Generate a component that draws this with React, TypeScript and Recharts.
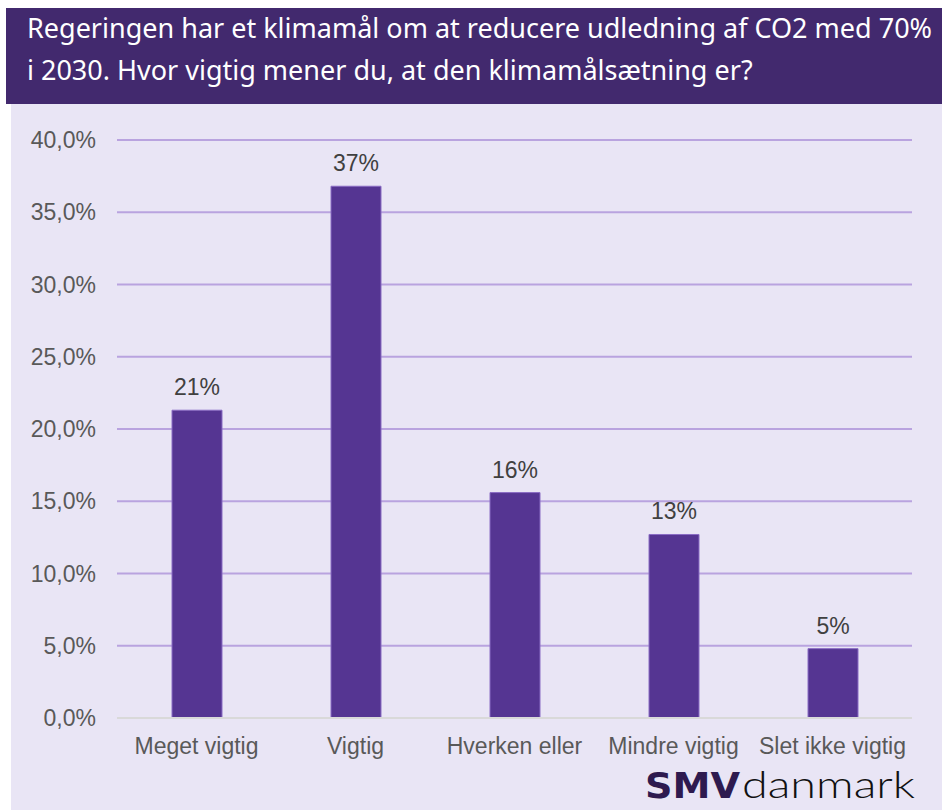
import { BarChart, Bar, XAxis, YAxis, CartesianGrid, LabelList } from 'recharts';

const categories = ['Meget vigtig', 'Vigtig', 'Hverken eller', 'Mindre vigtig', 'Slet ikke vigtig'];
const shares = [21.3, 36.8, 15.6, 12.7, 4.8];
const shareLabels = ['21%', '37%', '16%', '13%', '5%'];
const yTicks = [0, 5, 10, 15, 20, 25, 30, 35, 40];

const titleLines = [
  'Regeringen har et klimamål om at reducere udledning af CO2 med 70%',
  'i 2030. Hvor vigtig mener du, at den klimamålsætning er?',
];

const data = categories.map((name, i) => ({ name, value: shares[i], label: shareLabels[i] }));

export default function App() {
  return (
    <div style={{ position: 'absolute', left: 0, top: 0, width: 942, height: 810, background: '#fff', overflow: 'hidden' }}>
      <div style={{ position: 'absolute', left: 6, top: 8, width: 936, height: 96, background: '#42296E' }} />
      <div style={{ position: 'absolute', left: 11, top: 104, width: 931, height: 706, background: '#E9E5F5' }} />
      <div style={{ position: 'absolute', left: 27, top: 7, width: 910, color: '#fff', fontSize: 27, lineHeight: '42px',
        fontFamily: "'Noto Sans', sans-serif", whiteSpace: 'nowrap' }}>
        <div>{titleLines[0]}</div>
        <div>{titleLines[1]}</div>
      </div>
      <div style={{ position: 'absolute', left: 0, top: 0 }}>
        <BarChart width={942} height={810} data={data} margin={{ top: 140, right: 30, bottom: 0, left: 0 }}>
          <CartesianGrid vertical={false} stroke="#B9A3DF" strokeWidth={2} />
          <XAxis dataKey="name" height={92} tickSize={0} tickMargin={20} axisLine={{ stroke: '#D9D9D9', strokeWidth: 2 }}
            tickLine={false} interval={0} tick={{ fill: '#595959', fontSize: 23, fontFamily: 'Arial, Liberation Sans, sans-serif' }} />
          <YAxis width={117} domain={[0, 40]} ticks={yTicks} tickSize={0} tickMargin={21} axisLine={false} tickLine={false}
            tickFormatter={(v: number) => `${v.toFixed(1).replace('.', ',')}%`}
            tick={{ fill: '#595959', fontSize: 23, fontFamily: 'Arial, Liberation Sans, sans-serif' }} />
          <Bar dataKey="value" fill="#553592" stroke="#8A6CC4" strokeWidth={1} barSize={50} isAnimationActive={false}>
            <LabelList dataKey="label" position="top" offset={15} fill="#404040" fontSize={23}
              fontFamily="Arial, Liberation Sans, sans-serif" />
          </Bar>
        </BarChart>
      </div>
      <svg width={942} height={810} style={{ position: 'absolute', left: 0, top: 0, pointerEvents: 'none' }}>
        <text x={645} y={798} fill="#2E1A4F" fontSize={35} fontWeight={900} fontFamily="'DejaVu Sans', sans-serif"
          textLength={95} lengthAdjust="spacingAndGlyphs">SMV</text>
        <text x={742} y={798} fill="#111" fontSize={37} fontWeight={300} fontFamily="Lato, 'Noto Sans', sans-serif"
          textLength={173} lengthAdjust="spacingAndGlyphs">danmark</text>
      </svg>
    </div>
  );
}
